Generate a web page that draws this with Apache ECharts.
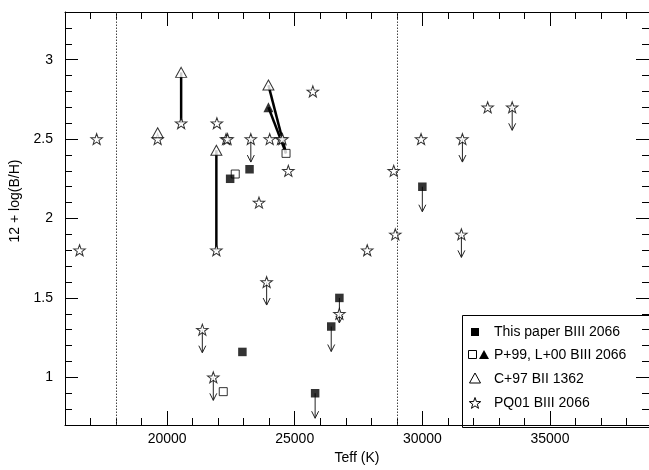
<!DOCTYPE html>
<html>
<head>
<meta charset="utf-8">
<script src="https://cdn.jsdelivr.net/npm/echarts@6/dist/echarts.min.js"></script>
<style>html,body{margin:0;padding:0;background:#fff;}#c{width:649px;height:470px;}</style>
</head>
<body>
<div id="c"></div>
<script>
// ---- data ----
const thisPaper = [[22470,2.25],[23230,2.31],[22950,1.16],[25800,0.90],[26430,1.32],[26750,1.50],[30000,2.20]];
const thisPaperLimits = [[25800,0.90],[26430,1.32],[26750,1.50],[30000,2.20]];
const p99Open = [[22670,2.28],[24660,2.41],[22200,0.91]];
const p99Filled = [[23970,2.70]];
const c97 = [[19630,2.54],[20550,2.92],[21930,2.43],[23970,2.84]];
const pq01 = [[16570,1.8],[17240,2.5],[19630,2.5],[20550,2.6],[21950,2.6],[21930,1.8],[22310,2.5],[22370,2.5],
  [23280,2.5],[23600,2.1],[24020,2.5],[24460,2.5],[24520,2.5],[24750,2.3],[25710,2.8],[23900,1.6],[21380,1.3],
  [21810,1.0],[26750,1.4],[27840,1.8],[28880,2.3],[28940,1.9],[29950,2.5],[31570,2.5],[32560,2.7],[33520,2.7],[31530,1.9]];
const pq01Limits = [[23280,2.5],[23900,1.6],[21380,1.3],[21810,1.0],[31570,2.5],[33520,2.7],[31530,1.9]];
const connections = [[20550,2.6,20550,2.92],[21930,1.8,21930,2.43],[23970,2.84,24660,2.41],[23970,2.70,24660,2.41]];
const refLines = [18000, 29000];
const xMajor = [20000,25000,30000,35000];
const xMinor = [17000,18000,19000,21000,22000,23000,24000,26000,27000,28000,29000,31000,32000,33000,34000,36000,37000,38000];
const yMajor = [1,1.5,2,2.5,3];
const yMinor = [0.8,0.9,1.1,1.2,1.3,1.4,1.6,1.7,1.8,1.9,2.1,2.2,2.3,2.4,2.6,2.7,2.8,2.9,3.1,3.2];
const legendLabels = ['This paper BIII 2066','P+99, L+00 BIII 2066','C+97 BII 1362','PQ01 BIII 2066'];

// ---- shapes ----
function starPts(cx, cy, R){
  const pts=[];
  for(let i=0;i<10;i++){const r=i%2?R*0.4:R;const a=-Math.PI/2+i*Math.PI/5;pts.push([cx+r*Math.cos(a),cy+r*Math.sin(a)]);}
  return pts;
}
const starPath = 'path://M' + starPts(50,50,50).map(p=>p[0].toFixed(2)+' '+p[1].toFixed(2)).join(' L') + ' Z';

const FONT = "'Liberation Sans', Arial, sans-serif";
const FS = 14;
const X0=16000, X1=38880, Y0=0.7, Y1=3.3;

function xAxisDef(pos, values, len, withLabels, line){
  return {type:'value', position:pos, min:X0, max:X1, splitLine:{show:false},
    axisLine:{show:line, onZero:false, lineStyle:{color:'#000',width:1}},
    axisTick:{show:true, inside:true, length:len, customValues:values, lineStyle:{color:'#000',width:1}},
    axisLabel:{show:withLabels, customValues:values, margin:7, color:'#000', fontSize:FS, fontFamily:FONT, formatter:v=>String(v)},
    name: withLabels ? 'Teff (K)' : '', nameLocation:'middle', nameGap:26,
    nameTextStyle:{color:'#000', fontSize:FS, fontFamily:FONT}};
}
function yAxisDef(pos, values, len, withLabels, line){
  return {type:'value', position:pos, min:Y0, max:Y1, splitLine:{show:false},
    axisLine:{show:line, onZero:false, lineStyle:{color:'#000',width:1}},
    axisTick:{show:true, inside:true, length:len, customValues:values, lineStyle:{color:'#000',width:1}},
    axisLabel:{show:withLabels, customValues:values, margin:12, color:'#000', fontSize:FS, fontFamily:FONT, formatter:v=>String(v)}};
}

function arrowItem(len){
  return function(params, api){
    const p = api.coord([api.value(0), api.value(1)]);
    return {type:'group', children:[
      {type:'line', shape:{x1:p[0],y1:p[1],x2:p[0],y2:p[1]+len}, style:{stroke:'#222',lineWidth:1}},
      {type:'polyline', shape:{points:[[p[0]-3.5,p[1]+len-7],[p[0],p[1]+len],[p[0]+3.5,p[1]+len-7]]}, style:{stroke:'#222',fill:null,lineWidth:1}}
    ]};
  };
}

const chart = echarts.init(document.getElementById('c'), null, {renderer:'canvas'});

// legend graphics
const LX=462, LY=315, rows=[332,355,379,403], mx=475, tx=494;
const legendG = [
  {type:'rect', shape:{x:LX+0.5,y:LY+0.5,width:200,height:112}, style:{fill:null, stroke:'#000', lineWidth:1}, z:50},
  {type:'rect', shape:{x:mx-4,y:rows[0]-4,width:8,height:8}, style:{fill:'#000'}, z:50},
  {type:'rect', shape:{x:468.5,y:rows[1]-4.5,width:8,height:8}, style:{fill:'#fff', stroke:'#000', lineWidth:1}, z:50},
  {type:'polygon', shape:{points:[[484,rows[1]-5],[479,rows[1]+4],[489,rows[1]+4]]}, style:{fill:'#000'}, z:50},
  {type:'polygon', shape:{points:[[mx,rows[2]-6],[mx-5.5,rows[2]+4],[mx+5.5,rows[2]+4]]}, style:{fill:'#fff',stroke:'#000',lineWidth:1}, z:50},
  {type:'polygon', shape:{points:starPts(mx,rows[3]+0.5,6)}, style:{fill:'#fff',stroke:'#000',lineWidth:1}, z:50},
  {type:'text', x:15, y:201, rotation:Math.PI/2, style:{text:'12 + log(B/H)', fill:'#000', font:FS+'px '+FONT, align:'center', verticalAlign:'middle'}, z:50}
];
legendLabels.forEach((t,i)=>legendG.push({type:'text', x:tx, y:rows[i], style:{text:t, fill:'#000', font:FS+'px '+FONT, align:'left', verticalAlign:'middle'}, z:50}));

const option = {
  backgroundColor:'#fff',
  animation:false,
  grid:{left:65, right:0, top:12, bottom:43, containLabel:false},
  xAxis:[
    xAxisDef('bottom', xMajor, 14, true, true),
    xAxisDef('bottom', xMinor, 7, false, false),
    xAxisDef('top', xMajor, 14, false, true),
    xAxisDef('top', xMinor, 7, false, false)
  ],
  yAxis:[
    yAxisDef('left', yMajor, 13, true, true),
    yAxisDef('left', yMinor, 7, false, false),
    yAxisDef('right', yMajor, 13, false, false),
    yAxisDef('right', yMinor, 7, false, false)
  ],
  graphic:legendG,
  series:[
    {type:'custom', xAxisIndex:0, yAxisIndex:0, z:1, data:connections, encode:{x:[0,2], y:[1,3]},
      renderItem:function(params, api){
        const a = api.coord([api.value(0), api.value(1)]);
        const b = api.coord([api.value(2), api.value(3)]);
        return {type:'line', shape:{x1:a[0],y1:a[1],x2:b[0],y2:b[1]}, style:{stroke:'#000', lineWidth:2.5}};
      },
      markLine:{silent:true, symbol:'none', label:{show:false}, lineStyle:{color:'#444', type:[1.5,1.5], width:1},
        data: refLines.map(v=>({xAxis:v}))}
    },
    {type:'custom', z:2, data:pq01Limits, encode:{x:0,y:1}, renderItem:arrowItem(23)},
    {type:'custom', z:2, data:thisPaperLimits, encode:{x:0,y:1}, renderItem:arrowItem(25)},
    {type:'scatter', z:3, data:pq01, symbol:starPath, symbolSize:[11.5,11], itemStyle:{color:'#fff', borderColor:'#000', borderWidth:1}},
    {type:'scatter', z:4, data:c97, symbol:'triangle', symbolSize:[11,10], itemStyle:{color:'#fff', borderColor:'#000', borderWidth:1}},
    {type:'scatter', z:4, data:p99Filled, symbol:'triangle', symbolSize:[10,10], itemStyle:{color:'#000'}},
    {type:'scatter', z:4, data:p99Open, symbol:'rect', symbolSize:[8,8], itemStyle:{color:'#fff', borderColor:'#000', borderWidth:1}},
    {type:'scatter', z:5, data:thisPaper, symbol:'rect', symbolSize:[8.5,8.5], itemStyle:{color:'#000'}}
  ]
};
chart.setOption(option);
</script>
</body>
</html>
